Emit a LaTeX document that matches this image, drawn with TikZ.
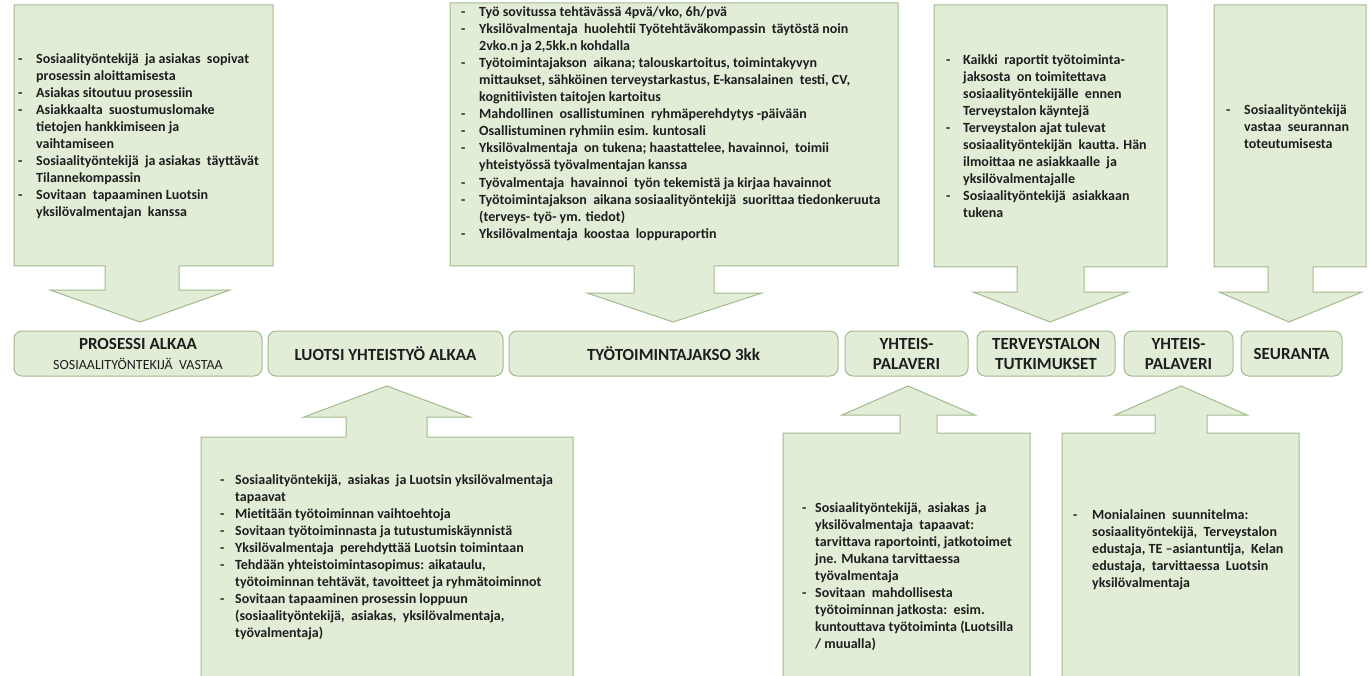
\documentclass[tikz,border=0pt]{standalone}
\usepackage{fontspec}
\setmainfont{Carlito}
\definecolor{cfill}{HTML}{E2EDD8}
\definecolor{cline}{HTML}{A2BA8C}
\definecolor{tcol}{HTML}{1E1E1E}
\newcommand\myDash[2]{\makebox[#1pt][l]{-}#2}
\newcommand\myCont[2]{\makebox[#1pt]{}#2}
\tikzset{
  callout/.style={fill=cfill, draw=cline, line width=1pt, line join=miter},
  stage/.style={fill=cfill, draw=cline, line width=1pt, rounded corners=8pt, inner sep=0pt,
    minimum height=45pt, align=center, text=tcol, font=\bfseries\fontsize{17}{20}\selectfont},
  bullets/.style={anchor=north west, inner sep=0pt, align=left, text=tcol,
    font=\bfseries\fontsize{14}{17.1}\selectfont},
}
\begin{document}
\begin{tikzpicture}[x=1pt,y=-1pt]
\useasboundingbox (0,0) rectangle (1370,676);
\fill[white] (0,0) rectangle (1370,676);
\clip (0,0) rectangle (1370,676);

% ---------- stage boxes ----------
\node[stage, minimum width=248pt] (s1) at (138,353.5)
  {PROSESSI ALKAA\\{\mdseries\fontsize{14}{20}\selectfont SOSIAALITYÖNTEKIJÄ\ \ VASTAA}};
\node[stage, minimum width=235pt] (s2) at (385.5,353.5) {LUOTSI YHTEISTYÖ ALKAA};
\node[stage, minimum width=329pt] (s3) at (673.5,353.5) {TYÖTOIMINTAJAKSO 3kk};
\node[stage, minimum width=123pt] (s4) at (906.5,353.5) {YHTEIS-\\PALAVERI};
\node[stage, minimum width=138pt] (s5) at (1046,353.5) {TERVEYSTALON\\TUTKIMUKSET};
\node[stage, minimum width=109pt] (s6) at (1178.5,353.5) {YHTEIS-\\PALAVERI};
\node[stage, minimum width=101pt] (s7) at (1291.5,353.5) {SEURANTA};

% ---------- top callouts (down arrows) ----------
\draw[callout] (14,5) -- (273,5) -- (273,266) -- (179,266) -- (179,290) -- (230,290)
  -- (140,322) -- (50,290) -- (105,290) -- (105,266) -- (14,266) -- cycle;
\draw[callout] (450,3) -- (898,3) -- (898,266) -- (714,266) -- (714,293) -- (762,293)
  -- (673,322) -- (587,293) -- (634,293) -- (634,266) -- (450,266) -- cycle;
\draw[callout] (934,5) -- (1167,5) -- (1167,267) -- (1084,267) -- (1084,292) -- (1128,292)
  -- (1050,322) -- (973,292) -- (1017,292) -- (1017,267) -- (934,267) -- cycle;
\draw[callout] (1214,5) -- (1366,5) -- (1366,267) -- (1313,267) -- (1313,292) -- (1362,292)
  -- (1289,322) -- (1219,292) -- (1268,292) -- (1268,267) -- (1214,267) -- cycle;

% ---------- bottom callouts (up arrows) ----------
\draw[callout] (201,690) -- (201,437) -- (346,437) -- (346,417) -- (304,417) -- (387,386)
  -- (470,417) -- (427,417) -- (427,437) -- (573,437) -- (573,690) -- cycle;
\draw[callout] (783,690) -- (783,433) -- (900,433) -- (900,415) -- (842,415) -- (908,386)
  -- (975,415) -- (937,415) -- (937,433) -- (1030,433) -- (1030,690) -- cycle;
\draw[callout] (1062,690) -- (1062,433) -- (1155,433) -- (1155,415) -- (1115,415) -- (1181,386)
  -- (1247,415) -- (1207,415) -- (1207,433) -- (1299,433) -- (1299,690) -- cycle;

% ---------- texts ----------
\node[bullets] (t1) at (18,53) {%
\myDash{18}{Sosiaalityöntekijä\ \ ja asiakas\ \ sopivat}\\
\myCont{18}{prosessin aloittamisesta}\\
\myDash{18}{Asiakas sitoutuu prosessiin}\\
\myDash{18}{Asiakkaalta\ \ suostumuslomake}\\
\myCont{18}{tietojen hankkimiseen ja}\\
\myCont{18}{vaihtamiseen}\\
\myDash{18}{Sosiaalityöntekijä\ \ ja asiakas\ \ täyttävät}\\
\myCont{18}{Tilannekompassin}\\
\myDash{18}{Sovitaan\ \ tapaaminen Luotsin}\\
\myCont{18}{yksilövalmentajan\ \ kanssa}};

\node[bullets] (t2) at (461,6) {%
\myDash{18}{Työ sovitussa tehtävässä 4pvä/vko, 6h/pvä}\\
\myDash{18}{Yksilövalmentaja\ \ huolehtii Työtehtäväkompassin\ \ täytöstä noin}\\
\myCont{18}{2vko.n ja 2,5kk.n kohdalla}\\
\myDash{18}{Työtoimintajakson\ \ aikana; talouskartoitus, toimintakyvyn}\\
\myCont{18}{mittaukset, sähköinen terveystarkastus, E-kansalainen\ \ testi, CV,}\\
\myCont{18}{kognitiivisten taitojen kartoitus}\\
\myDash{18}{Mahdollinen\ \ osallistuminen\ \ ryhmäperehdytys -päivään}\\
\myDash{18}{Osallistuminen ryhmiin esim. kuntosali}\\
\myDash{18}{Yksilövalmentaja\ \ on tukena; haastattelee, havainnoi,\ \ toimii}\\
\myCont{18}{yhteistyössä työvalmentajan kanssa}\\
\myDash{18}{Työvalmentaja\ \ havainnoi\ \ työn tekemistä ja kirjaa havainnot}\\
\myDash{18}{Työtoimintajakson\ \ aikana sosiaalityöntekijä\ \ suorittaa tiedonkeruuta}\\
\myCont{18}{(terveys- työ- ym. tiedot)}\\
\myDash{18}{Yksilövalmentaja\ \ koostaa\ \ loppuraportin}};

\node[bullets] (t4) at (946,54) {%
\myDash{17}{Kaikki\ \ raportit työtoiminta-}\\
\myCont{17}{jaksosta\ \ on toimitettava}\\
\myCont{17}{sosiaalityöntekijälle\ \ ennen}\\
\myCont{17}{Terveystalon käyntejä}\\
\myDash{17}{Terveystalon ajat tulevat}\\
\myCont{17}{sosiaalityöntekijän\ \ kautta. Hän}\\
\myCont{17}{ilmoittaa ne asiakkaalle\ \ ja}\\
\myCont{17}{yksilövalmentajalle}\\
\myDash{17}{Sosiaalityöntekijä\ \ asiakkaan}\\
\myCont{17}{tukena}};

\node[bullets] (t5) at (1226,104) {%
\myDash{18}{Sosiaalityöntekijä}\\
\myCont{18}{vastaa\ \ seurannan}\\
\myCont{18}{toteutumisesta}};

\node[bullets] (b1) at (220,474) {%
\myDash{15}{Sosiaalityöntekijä,\ \ asiakas\ \ ja Luotsin yksilövalmentaja}\\
\myCont{15}{tapaavat}\\
\myDash{15}{Mietitään työtoiminnan vaihtoehtoja}\\
\myDash{15}{Sovitaan työtoiminnasta ja tutustumiskäynnistä}\\
\myDash{15}{Yksilövalmentaja\ \ perehdyttää Luotsin toimintaan}\\
\myDash{15}{Tehdään yhteistoimintasopimus: aikataulu,}\\
\myCont{15}{työtoiminnan tehtävät, tavoitteet ja ryhmätoiminnot}\\
\myDash{15}{Sovitaan tapaaminen prosessin loppuun}\\
\myCont{15}{(sosiaalityöntekijä,\ \ asiakas,\ \ yksilövalmentaja,}\\
\myCont{15}{työvalmentaja)}};

\node[bullets] (b2) at (802,502) {%
\myDash{13}{Sosiaalityöntekijä,\ \ asiakas\ \ ja}\\
\myCont{13}{yksilövalmentaja\ \ tapaavat:}\\
\myCont{13}{tarvittava raportointi, jatkotoimet}\\
\myCont{13}{jne. Mukana tarvittaessa}\\
\myCont{13}{työvalmentaja}\\
\myDash{13}{Sovitaan\ \ mahdollisesta}\\
\myCont{13}{työtoiminnan jatkosta:\ \ esim.}\\
\myCont{13}{kuntouttava työtoiminta (Luotsilla}\\
\myCont{13}{/ muualla)}};

\node[bullets] (b3) at (1073,509) {%
\myDash{19}{Monialainen\ \ suunnitelma:}\\
\myCont{19}{sosiaalityöntekijä,\ \ Terveystalon}\\
\myCont{19}{edustaja, TE –asiantuntija,\ \ Kelan}\\
\myCont{19}{edustaja,\ \ tarvittaessa\ \ Luotsin}\\
\myCont{19}{yksilövalmentaja}};
\end{tikzpicture}
\end{document}
